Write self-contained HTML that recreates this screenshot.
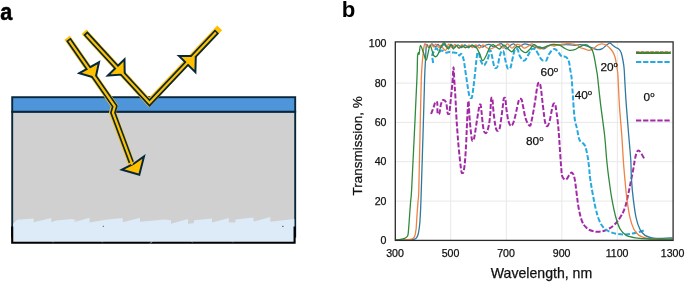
<!DOCTYPE html>
<html><head><meta charset="utf-8"><title>figure</title>
<style>html,body{margin:0;padding:0;background:#fff}body{width:685px;height:282px;position:relative;overflow:hidden}</style></head>
<body>
<svg width="685" height="282" viewBox="0 0 685 282" style="position:absolute;left:0;top:0">
<rect x="12.2" y="111.7" width="283" height="125" fill="#d0d0d0" stroke="#08273b" stroke-width="1.9"/>
<rect x="12.2" y="97.2" width="283" height="14.5" fill="#4f95da" stroke="#08273b" stroke-width="1.9"/>
<polygon points="13.2,223.8 17.0,219.7 33.7,218.6 33.7,222.2 51.3,218.1 51.3,222.2 56.0,220.6 72.0,219.0 76.0,220.2 73.6,222.2 89.5,217.8 89.5,222.5 105.7,219.7 122.5,218.1 123.0,222.2 140.0,217.8 140.0,221.7 164.7,219.4 171.0,220.2 171.0,223.8 188.0,219.0 188.0,223.8 193.7,223.3 194.2,220.2 212.0,218.6 212.0,222.5 228.8,218.1 228.8,222.5 235.2,222.5 235.6,219.4 253.5,217.6 253.6,221.7 270.3,217.0 270.3,221.7 294.3,219.0 294.6,242.7 12.4,242.7" fill="#ddeaf7"/>
<path d="M12.2 226.5V242.7H294.6V226.5" fill="none" stroke="#000" stroke-width="2.1"/>
<path d="M52.2 241.4l.9 .9M101.6 241.4l.9 .9M150.2 243.4l2.2-2.2M191.5 241.4l.9 .9M232 241.4l.9 .9" stroke="#ddeaf7" stroke-width="0.8" fill="none"/>
<rect x="102.8" y="225.8" width="1" height="1" fill="#345"/><rect x="282" y="225.9" width="1.6" height="0.8" fill="#345"/>
<path d="M67.6 38.2 L114.8 106.3 L112.9 112.7 L133.4 168.0" fill="none" stroke="#ffc000" stroke-width="6.8" stroke-linejoin="miter" transform="translate(-0.4 -0.4)"/>
<path d="M84.5 32.2 L149.5 103.0 L220.1 28.2" fill="none" stroke="#ffc000" stroke-width="6.8" stroke-linejoin="miter" transform="translate(-0.4 -0.4)"/>
<path d="M68.4 39.4 L114.8 106.3 L112.9 112.7 L131.3 162.4" fill="none" stroke="#08273b" stroke-width="5.5" stroke-linejoin="miter"/>
<path d="M85.4 33.2 L149.5 103.0 L217.0 31.5" fill="none" stroke="#08273b" stroke-width="5.5" stroke-linejoin="miter"/>
<polygon points="79.3,73.1 99.0,62.3 95.6,77.9" fill="#ffc000" stroke="#08273b" stroke-width="2.0" stroke-linejoin="miter"/>
<polygon points="107.9,75.5 124.5,59.4 124.7,74.4" fill="#ffc000" stroke="#08273b" stroke-width="2.0" stroke-linejoin="miter"/>
<polygon points="178.9,55.9 195.4,72.2 195.8,55.9" fill="#ffc000" stroke="#08273b" stroke-width="2.0" stroke-linejoin="miter"/>
<polygon points="121.9,169.7 133.4,164.0 144.0,156.5 139.3,174.8" fill="#ffc000" stroke="#08273b" stroke-width="2.0" stroke-linejoin="miter"/>
<path d="M69.3 40.7 L114.8 106.3 L112.9 112.7 L132.2 164.7" fill="none" stroke="#ffc000" stroke-width="2.2" stroke-linejoin="miter"/>
<path d="M86.5 34.4 L149.5 103.0 L215.9 32.6" fill="none" stroke="#ffc000" stroke-width="2.2" stroke-linejoin="miter"/>
<line x1="450.7" y1="41.9" x2="450.7" y2="240.4" stroke="#e8e8e8" stroke-width="1"/>
<line x1="506.3" y1="41.9" x2="506.3" y2="240.4" stroke="#e8e8e8" stroke-width="1"/>
<line x1="561.8" y1="41.9" x2="561.8" y2="240.4" stroke="#e8e8e8" stroke-width="1"/>
<line x1="617.3" y1="41.9" x2="617.3" y2="240.4" stroke="#e8e8e8" stroke-width="1"/>
<line x1="395.3" y1="83.1" x2="673.1" y2="83.1" stroke="#e8e8e8" stroke-width="1"/>
<line x1="395.3" y1="122.4" x2="673.1" y2="122.4" stroke="#e8e8e8" stroke-width="1"/>
<line x1="395.3" y1="161.7" x2="673.1" y2="161.7" stroke="#e8e8e8" stroke-width="1"/>
<line x1="395.3" y1="201.1" x2="673.1" y2="201.1" stroke="#e8e8e8" stroke-width="1"/>
<clipPath id="cp"><rect x="395.3" y="41.9" width="277.8" height="198.5"/></clipPath>
<g clip-path="url(#cp)" fill="none" stroke-linejoin="round">
<path d="M431.1 114.0C431.6 112.6 433.0 109.0 433.8 106.7C434.6 104.4 434.7 103.2 435.2 102.3C435.7 101.3 436.0 101.4 436.4 101.6C436.8 101.8 437.1 101.1 437.3 103.2C437.5 105.3 437.3 110.3 437.5 112.4C437.7 114.5 438.0 113.9 438.4 114.0C438.8 114.1 439.1 114.6 439.6 112.7C440.1 110.7 440.4 106.2 441.1 103.8C441.8 101.4 442.2 100.3 443.2 100.1C444.2 99.9 445.4 100.6 446.2 103.0C447.0 105.4 447.1 110.4 447.5 112.6C448.0 114.7 448.2 114.0 448.6 114.0C449.0 114.0 449.1 114.7 449.5 112.5C449.8 110.2 449.9 108.2 450.5 102.3C451.1 96.4 451.9 88.7 452.5 81.9C453.1 75.1 453.1 67.3 453.5 67.3C453.9 67.3 454.0 76.2 454.4 81.9C454.8 87.6 455.0 90.2 455.4 97.0C455.8 103.8 456.0 109.9 456.4 116.9C456.8 123.9 457.1 127.5 457.5 133.0C457.9 138.5 458.0 140.1 458.5 145.6C459.0 151.1 459.5 156.2 460.1 161.2C460.7 166.2 460.9 169.1 461.4 171.4C461.8 173.6 462.0 172.9 462.4 172.9C462.8 172.9 463.1 173.6 463.6 171.4C464.1 169.1 464.5 167.3 465.0 161.2C465.5 155.1 465.9 148.6 466.3 140.0C466.7 131.4 466.9 124.5 467.3 116.9C467.7 109.3 468.1 100.8 468.5 100.8C468.9 100.8 469.0 110.9 469.5 116.9C470.0 122.9 470.4 127.6 470.9 132.0C471.4 136.4 471.6 137.9 471.9 139.6C472.3 141.3 472.5 140.6 472.8 140.7C473.1 140.8 473.3 141.1 473.7 139.8C474.2 138.5 474.3 137.6 474.9 134.0C475.5 130.4 476.1 126.0 476.8 121.3C477.5 116.6 478.2 112.7 478.7 109.6C479.2 106.5 479.2 106.1 479.5 105.2C479.8 104.2 479.9 104.4 480.2 104.5C480.5 104.6 480.6 104.0 480.8 105.5C481.1 107.1 481.1 108.0 481.6 112.5C482.1 117.0 482.6 124.6 483.4 128.6C484.2 132.6 484.7 133.2 485.6 133.2C486.5 133.2 487.2 131.8 488.1 128.6C489.0 125.4 489.4 122.4 490.0 116.9C490.6 111.4 490.7 104.0 491.0 100.4C491.4 96.7 491.6 98.1 491.9 97.9C492.2 97.7 492.3 97.2 492.5 99.4C492.8 101.7 492.8 104.8 493.3 109.6C493.8 114.4 494.5 120.3 495.1 124.2C495.7 128.1 496.0 128.7 496.5 129.9C497.0 131.2 497.3 130.8 497.7 130.8C498.1 130.8 498.3 131.1 498.8 130.1C499.3 129.2 499.5 129.7 500.2 125.7C500.9 121.7 501.7 114.7 502.4 109.6C503.1 104.5 503.2 101.7 503.6 99.4C504.0 97.2 504.2 97.9 504.6 97.9C505.0 97.9 505.1 97.2 505.5 99.4C505.8 101.7 505.9 105.4 506.5 109.6C507.1 113.8 507.6 118.1 508.5 121.3C509.4 124.5 510.3 126.2 511.4 125.9C512.5 125.6 513.2 123.5 514.3 119.8C515.4 116.1 516.4 110.6 517.3 106.7C518.2 102.8 518.4 101.3 519.1 99.7C519.7 98.2 520.0 98.7 520.5 98.7C521.0 98.7 521.2 98.2 521.7 99.8C522.2 101.4 522.4 103.3 523.2 107.0C524.0 110.7 524.5 115.1 525.7 118.7C526.9 122.3 528.5 125.3 529.6 125.7C530.7 126.1 530.7 124.7 531.6 120.7C532.5 116.7 533.5 111.1 534.5 105.1C535.5 99.1 536.1 93.7 536.8 89.5C537.5 85.3 537.6 84.9 538.0 83.6C538.4 82.3 538.6 82.7 539.0 82.7C539.4 82.7 539.6 82.1 540.0 83.8C540.5 85.5 540.7 86.5 541.3 91.4C541.9 96.3 542.5 103.0 543.3 109.0C544.1 115.0 544.4 119.3 545.2 122.6C546.0 125.9 546.6 126.4 547.5 126.0C548.4 125.6 548.8 124.0 549.7 120.7C550.6 117.4 551.3 112.2 552.0 109.0C552.7 105.8 552.9 105.3 553.3 104.2C553.8 103.2 554.0 103.5 554.4 103.5C554.8 103.5 554.9 103.0 555.3 104.5C555.6 105.9 555.8 107.5 556.3 110.9C556.8 114.3 557.3 117.4 557.8 122.0C558.3 126.6 558.4 128.3 558.9 134.5C559.4 140.7 559.7 147.1 560.2 154.0C560.7 160.9 561.0 165.6 561.4 170.0C561.8 174.4 561.5 174.7 562.4 176.6C563.3 178.5 564.6 180.0 566.0 179.6C567.4 179.2 568.4 175.8 569.6 174.5C570.8 173.2 571.2 172.0 572.1 172.7C573.0 173.4 573.6 174.1 574.5 178.1C575.4 182.1 575.8 187.4 576.6 193.2C577.4 199.0 577.7 203.0 578.7 208.2C579.7 213.4 580.4 216.7 581.7 220.3C583.0 223.9 583.7 224.9 585.6 226.9C587.5 228.9 589.1 229.9 591.7 230.8C594.3 231.7 596.3 231.9 599.2 231.7C602.1 231.5 603.8 231.2 606.7 229.9C609.6 228.6 611.7 227.2 614.3 224.8C616.9 222.4 618.3 220.5 620.3 217.3C622.3 214.1 623.3 212.3 624.8 208.2C626.2 204.1 626.6 201.4 627.8 196.2C629.0 191.0 629.8 186.4 630.9 181.1C632.0 175.8 632.5 173.1 633.3 169.0C634.1 164.9 634.2 163.1 634.8 160.0C635.4 156.9 635.8 154.9 636.5 153.0C637.2 151.1 637.5 150.4 638.4 150.4C639.3 150.4 639.7 151.1 641.0 153.0C642.3 154.9 644.2 158.6 645.0 160.0" stroke="#a32aa6" stroke-width="2" stroke-dasharray="5 2"/>
<path d="M433.2 63.0C433.0 61.5 432.1 57.6 432.2 55.5C432.3 53.4 432.8 53.3 433.7 51.9C434.6 50.5 435.6 48.2 436.6 48.2C437.6 48.2 437.8 51.5 438.8 51.9C439.8 52.3 440.3 50.3 441.7 50.4C443.1 50.5 444.6 52.3 446.1 52.6C447.6 52.9 448.3 51.9 449.7 51.9C451.1 51.9 451.8 52.3 453.4 52.6C455.0 52.9 456.7 52.7 457.8 53.3C458.9 53.9 458.5 55.4 459.2 55.5C459.9 55.6 460.5 53.1 461.4 54.0C462.3 54.9 462.8 56.0 463.7 60.0C464.6 64.0 465.0 69.0 465.9 74.6C466.8 80.2 467.4 84.9 468.1 89.2C468.8 93.5 469.1 95.2 469.7 96.9C470.3 98.6 470.6 98.0 471.0 98.0C471.4 98.0 471.6 98.6 472.0 96.9C472.4 95.2 472.6 93.5 473.2 89.2C473.8 84.9 474.3 80.2 474.9 74.6C475.5 69.0 475.9 64.1 476.4 60.0C476.9 55.9 477.0 55.0 477.4 53.6C477.7 52.1 477.9 52.6 478.2 52.6C478.5 52.6 478.8 52.1 479.2 53.5C479.6 55.0 479.6 57.7 480.4 59.9C481.2 62.1 482.4 64.4 483.4 65.1C484.4 65.8 484.5 65.1 485.5 63.5C486.5 61.9 487.7 59.4 488.4 57.0C489.1 54.6 489.0 52.5 489.3 51.3C489.6 50.0 489.7 50.4 490.0 50.4C490.3 50.4 490.6 50.0 491.0 51.3C491.4 52.5 491.6 54.1 492.2 57.0C492.8 59.9 493.5 64.4 494.2 66.5C494.9 68.6 495.2 67.9 495.8 67.9C496.4 67.9 496.7 68.6 497.5 66.5C498.2 64.4 498.8 59.8 499.5 57.0C500.2 54.2 500.5 53.0 501.1 51.9C501.7 50.7 501.9 51.0 502.4 51.1C502.9 51.2 503.1 50.5 503.7 52.2C504.3 53.9 504.6 56.9 505.3 59.9C506.0 62.9 506.6 65.9 507.3 67.6C508.1 69.3 508.4 68.7 509.0 68.7C509.6 68.7 509.9 69.4 510.6 67.4C511.3 65.4 511.8 61.7 512.6 58.4C513.4 55.1 513.9 52.0 514.6 50.1C515.4 48.3 515.7 49.0 516.3 48.9C516.9 48.8 517.2 48.4 517.9 49.8C518.6 51.3 518.7 54.1 519.9 56.2C521.1 58.3 522.6 61.0 524.3 60.6C526.0 60.2 527.4 56.2 528.7 54.1C530.0 52.0 530.3 50.6 531.1 49.6C532.0 48.6 532.3 48.9 533.1 48.9C533.9 48.9 534.4 48.6 535.4 49.6C536.4 50.6 537.0 52.1 538.2 54.1C539.4 56.1 540.5 58.5 541.8 59.8C543.0 61.0 543.8 60.6 544.7 60.6C545.6 60.6 545.8 61.0 546.7 59.8C547.5 58.5 547.6 56.2 549.1 54.1C550.6 52.0 552.4 49.2 554.2 48.9C556.0 48.6 557.2 51.2 558.6 52.6C560.0 54.0 560.1 55.3 561.5 56.2C562.9 57.1 564.5 56.0 565.9 57.0C567.3 58.0 567.9 58.9 568.8 61.4C569.7 63.9 569.8 67.1 570.3 70.1C570.8 73.1 571.0 72.6 571.5 77.0C572.0 81.4 572.1 85.3 572.7 93.1C573.3 100.9 573.7 110.3 574.5 117.2C575.3 124.1 576.1 124.3 577.0 128.6C577.9 132.9 578.3 136.7 579.3 139.4C580.3 142.1 581.2 141.4 582.3 142.7C583.4 144.0 584.2 143.6 585.2 146.2C586.2 148.8 586.7 151.8 587.5 155.9C588.3 160.0 588.6 163.3 589.1 167.6C589.6 171.9 589.4 173.2 590.1 178.1C590.8 183.0 591.5 187.4 592.6 193.2C593.7 199.0 594.3 203.0 595.6 208.2C596.9 213.4 597.6 216.5 599.2 220.3C600.8 224.1 601.7 225.6 603.7 227.8C605.7 230.0 607.1 230.5 609.7 231.7C612.3 232.9 614.4 233.4 617.3 233.9C620.2 234.4 621.9 234.6 624.8 234.5C627.7 234.4 629.5 234.1 632.4 233.6C635.3 233.1 637.5 232.4 639.9 231.7C642.3 231.0 644.0 230.3 645.0 230.0" stroke="#27a9e0" stroke-width="2" stroke-dasharray="5 2"/>
<path d="M396.0 240.0C398.4 239.9 407.4 239.9 410.6 239.7C413.9 239.5 414.3 239.5 415.5 238.7C416.7 237.9 417.4 236.8 418.0 234.8C418.6 232.9 419.0 230.2 419.4 227.0C419.8 223.8 420.1 219.5 420.3 215.3C420.6 211.1 420.7 205.9 420.9 201.7C421.1 197.5 420.9 201.1 421.3 190.0C421.7 178.9 422.4 153.5 423.0 135.0C423.6 116.5 424.2 91.5 424.6 79.0C425.0 66.5 425.2 65.7 425.5 60.0C425.8 54.3 425.9 47.1 426.5 45.0C427.1 42.9 428.1 47.7 429.0 47.5C429.9 47.3 431.0 44.1 432.0 44.0C433.0 43.9 434.0 46.9 435.0 47.0C436.0 47.1 437.0 44.4 438.0 44.5C439.0 44.6 440.0 47.5 441.0 47.5C442.0 47.5 442.9 44.4 444.0 44.5C445.1 44.6 446.3 48.0 447.5 48.0C448.7 48.0 449.8 44.6 451.0 44.5C452.2 44.4 453.3 47.5 454.5 47.5C455.7 47.5 456.8 44.8 458.0 44.8C459.2 44.8 460.3 47.5 461.5 47.5C462.7 47.5 463.8 45.0 465.0 45.0C466.2 45.0 467.3 47.8 468.5 47.8C469.7 47.8 470.8 45.0 472.0 45.0C473.2 45.0 474.3 47.5 475.5 47.5C476.7 47.5 477.8 44.8 479.0 44.8C480.2 44.8 481.3 47.2 482.5 47.2C483.7 47.2 484.8 45.4 486.0 45.0C487.2 44.6 488.7 44.3 490.0 44.6C491.3 44.9 492.4 46.7 493.6 46.8C494.8 46.9 496.0 45.8 497.3 45.3C498.6 44.8 500.2 43.2 501.7 43.8C503.2 44.4 504.8 48.5 506.1 48.9C507.4 49.3 508.5 46.9 509.7 46.0C510.9 45.1 512.1 43.7 513.4 43.8C514.7 43.9 516.4 46.5 517.7 46.8C519.0 47.0 520.2 45.8 521.4 45.3C522.6 44.8 523.5 43.8 525.0 43.8C526.5 43.8 528.4 44.7 530.1 45.3C531.8 45.9 533.7 47.2 535.3 47.5C536.9 47.8 538.1 46.6 539.6 46.8C541.1 47.0 542.5 49.0 544.0 48.9C545.5 48.8 546.9 46.7 548.4 46.0C549.9 45.3 551.1 44.7 552.8 44.6C554.5 44.5 556.4 45.3 558.6 45.3C560.8 45.3 563.2 44.6 565.9 44.6C568.6 44.6 572.3 45.3 574.7 45.3C577.1 45.3 578.9 44.6 580.5 44.6C582.1 44.6 583.0 44.9 584.4 45.3C585.8 45.7 587.3 46.3 588.8 46.8C590.2 47.3 591.6 47.7 593.1 48.2C594.6 48.7 596.0 49.6 597.5 49.7C599.0 49.8 600.4 49.6 601.9 48.9C603.4 48.2 605.0 46.3 606.3 45.3C607.6 44.3 608.8 43.1 609.9 43.1C611.0 43.1 611.8 44.6 612.8 45.3C613.8 46.0 614.8 46.9 615.8 47.5C616.8 48.1 617.9 48.2 618.7 48.9C619.6 49.6 620.3 50.5 620.9 51.9C621.5 53.2 621.8 54.7 622.3 57.0C622.8 59.3 623.4 62.8 623.8 65.7C624.2 68.6 624.4 72.3 624.5 74.5C624.6 76.7 624.4 73.9 624.7 79.0C625.0 84.1 625.6 95.7 626.3 105.1C627.0 114.5 628.0 126.2 628.7 135.3C629.5 144.5 630.3 152.9 630.8 160.0C631.2 167.1 631.0 171.6 631.4 178.1C631.8 184.6 632.5 192.7 633.3 199.2C634.1 205.7 634.9 212.3 636.0 217.3C637.1 222.3 638.4 226.3 639.9 229.3C641.4 232.3 643.0 234.0 645.0 235.4C647.0 236.8 649.1 237.3 652.0 237.8C654.9 238.3 659.1 238.4 662.5 238.4C665.9 238.4 670.8 237.9 672.5 237.8" stroke="#2f789f" stroke-width="1.3"/>
<path d="M396.0 240.0C397.4 239.9 402.1 239.8 404.7 239.7C407.3 239.5 410.0 239.6 411.6 239.1C413.2 238.6 413.8 238.5 414.5 236.8C415.2 235.1 415.7 232.6 416.1 229.0C416.5 225.4 416.7 219.9 417.0 215.3C417.3 210.8 417.7 205.9 418.0 201.7C418.3 197.5 418.5 201.1 418.8 190.0C419.1 178.9 419.6 153.5 420.0 135.0C420.4 116.5 420.9 91.8 421.3 79.0C421.8 66.2 422.1 63.8 422.7 58.0C423.2 52.2 423.8 46.1 424.6 44.2C425.4 42.4 426.6 46.9 427.7 46.9C428.8 46.9 430.3 44.2 431.3 44.2C432.3 44.2 432.8 46.9 433.5 46.9C434.2 46.9 434.7 44.1 435.7 44.2C436.7 44.4 438.5 47.6 439.3 47.8C440.1 48.0 439.6 45.1 440.6 45.5C441.6 45.9 444.2 50.6 445.5 50.4C446.8 50.2 447.5 44.7 448.6 44.2C449.7 43.7 450.9 47.5 452.0 47.5C453.1 47.5 453.9 44.4 455.0 44.5C456.1 44.6 457.3 48.0 458.5 48.0C459.7 48.0 460.8 44.6 462.0 44.6C463.2 44.6 464.3 47.8 465.5 47.8C466.7 47.8 467.8 44.8 469.0 44.8C470.2 44.8 471.3 47.5 472.5 47.5C473.7 47.5 474.8 44.9 476.0 45.0C477.2 45.1 478.3 48.0 479.5 48.0C480.7 48.0 481.8 45.1 483.0 45.0C484.2 44.9 485.3 46.9 486.5 47.5C487.7 48.1 488.7 48.9 490.0 48.9C491.3 48.9 492.9 48.2 494.4 47.5C495.9 46.8 497.4 44.5 498.8 44.6C500.2 44.7 501.7 48.3 503.1 48.2C504.6 48.1 506.0 43.8 507.5 43.8C509.0 43.8 510.4 48.1 511.9 48.2C513.4 48.3 514.8 45.1 516.3 44.6C517.8 44.1 519.4 44.7 520.7 45.3C522.0 45.9 523.0 48.1 524.3 48.2C525.6 48.3 527.4 46.7 528.7 46.0C530.0 45.3 531.0 43.5 532.3 43.8C533.6 44.0 535.4 46.6 536.7 47.5C538.1 48.4 539.1 48.9 540.4 48.9C541.7 48.9 543.1 48.1 544.7 47.5C546.3 46.9 548.3 45.5 549.9 45.3C551.5 45.0 552.5 46.1 554.2 46.0C555.9 45.9 558.2 45.0 560.1 44.6C562.0 44.2 564.0 43.9 565.9 43.8C567.8 43.7 569.8 43.5 571.8 43.8C573.8 44.0 576.2 44.7 577.6 45.3C579.0 45.9 578.9 46.9 580.0 47.5C581.1 48.1 582.9 48.4 584.4 48.9C585.9 49.4 587.3 50.4 588.8 50.4C590.2 50.4 591.6 49.8 593.1 48.9C594.6 48.0 596.0 46.1 597.5 45.3C599.0 44.4 600.4 43.8 601.9 43.8C603.4 43.8 605.0 44.6 606.3 45.3C607.6 46.0 608.8 47.1 609.9 48.2C611.0 49.3 611.9 50.4 612.8 51.9C613.6 53.4 614.4 54.9 615.0 57.0C615.6 59.1 616.0 61.6 616.5 64.3C617.0 67.0 617.5 70.9 617.7 73.0C618.0 75.1 617.7 71.7 618.0 77.0C618.3 82.3 618.8 95.4 619.4 105.1C620.0 114.8 621.1 126.2 621.8 135.3C622.4 144.5 622.8 152.9 623.3 160.0C623.8 167.1 624.2 171.6 624.8 178.1C625.4 184.6 626.0 192.7 626.9 199.2C627.8 205.7 628.7 212.3 629.9 217.3C631.1 222.3 632.4 226.3 633.9 229.3C635.4 232.3 636.8 233.9 639.0 235.4C641.2 236.9 644.0 237.8 647.4 238.4C650.8 239.1 655.3 239.1 659.5 239.3C663.7 239.5 670.3 239.6 672.5 239.6" stroke="#ee8242" stroke-width="1.3"/>
<path d="M396.0 240.0C396.5 239.9 397.4 240.0 398.9 239.7C400.3 239.4 403.2 239.0 404.7 238.3C406.2 237.7 407.0 237.4 407.7 235.8C408.4 234.2 408.3 232.4 408.6 229.0C408.9 225.6 409.3 219.9 409.6 215.3C409.9 210.8 410.3 205.9 410.6 201.7C410.9 197.5 411.0 201.1 411.6 190.0C412.2 178.9 413.4 153.5 414.3 135.0C415.2 116.5 416.4 90.3 416.9 79.0C417.4 67.7 417.2 71.1 417.3 67.2C417.4 63.3 417.4 57.9 417.6 55.5C417.8 53.1 418.1 52.9 418.4 52.6C418.6 52.4 418.8 55.2 419.1 54.0C419.5 52.8 419.8 45.5 420.5 45.3C421.2 45.1 422.4 50.2 423.4 52.6C424.4 55.0 425.3 61.0 426.4 59.9C427.5 58.8 428.8 46.7 430.0 46.0C431.2 45.3 432.5 53.9 433.7 55.5C434.9 57.1 436.0 57.2 437.3 55.5C438.6 53.8 440.5 47.4 441.7 45.3C442.9 43.2 443.5 42.5 444.6 43.1C445.7 43.7 447.2 48.8 448.3 49.0C449.4 49.2 450.4 44.6 451.2 44.6C452.0 44.6 452.5 48.9 453.4 49.0C454.2 49.1 455.3 45.4 456.3 45.3C457.3 45.2 458.2 48.1 459.2 48.2C460.2 48.3 461.2 46.1 462.2 46.0C463.2 45.9 464.0 47.4 465.1 47.5C466.2 47.6 467.6 46.8 469.0 46.5C470.4 46.2 472.5 45.7 473.8 46.0C475.1 46.3 475.8 46.9 476.8 48.2C477.8 49.5 478.7 51.9 479.7 54.0C480.7 56.1 481.5 60.4 482.6 60.6C483.7 60.9 485.0 57.8 486.2 55.5C487.4 53.2 488.8 48.6 489.9 46.8C491.0 45.0 491.9 44.6 492.9 44.6C493.9 44.6 494.7 46.1 495.8 46.8C496.9 47.5 498.4 49.1 499.5 49.0C500.6 48.9 501.5 46.6 502.4 46.0C503.2 45.4 503.6 44.8 504.6 45.3C505.6 45.8 507.0 47.8 508.2 48.9C509.4 50.0 510.7 52.1 511.9 51.9C513.1 51.7 514.4 48.4 515.5 47.5C516.6 46.6 517.5 46.3 518.5 46.8C519.5 47.3 520.2 49.4 521.4 50.4C522.6 51.4 524.3 52.9 525.8 52.6C527.2 52.4 528.8 50.2 530.1 48.9C531.4 47.6 532.6 45.0 533.8 44.6C535.0 44.2 536.2 46.2 537.4 46.8C538.6 47.4 539.8 48.2 541.1 48.2C542.5 48.2 543.8 47.4 545.5 46.8C547.2 46.2 549.6 45.0 551.3 44.6C553.0 44.2 554.2 44.5 555.7 44.6C557.2 44.7 558.6 44.7 560.1 45.3C561.6 45.9 562.9 47.4 564.5 48.2C566.1 49.1 567.9 50.1 569.6 50.4C571.3 50.6 573.0 50.3 574.7 49.7C576.4 49.1 577.9 47.6 579.8 46.8C581.6 45.9 584.2 44.6 585.8 44.6C587.4 44.6 588.4 45.8 589.5 46.8C590.6 47.8 591.7 48.9 592.4 50.4C593.1 51.9 593.4 53.4 593.9 55.5C594.4 57.6 594.8 60.1 595.3 62.8C595.8 65.5 596.4 69.2 596.8 71.6C597.2 74.0 597.0 71.4 597.6 77.0C598.2 82.6 599.5 95.4 600.7 105.1C601.9 114.8 603.6 126.2 604.6 135.3C605.6 144.5 606.0 152.9 606.7 160.0C607.4 167.1 607.9 171.6 608.8 178.1C609.7 184.6 610.7 192.7 611.9 199.2C613.1 205.7 614.4 212.3 615.8 217.3C617.2 222.3 618.5 226.3 620.3 229.3C622.0 232.3 623.8 234.0 626.3 235.4C628.8 236.8 631.4 237.2 635.4 237.8C639.4 238.4 644.2 238.8 650.4 239.0C656.6 239.2 668.8 239.0 672.5 239.0" stroke="#2f8a3c" stroke-width="1.3"/>
</g>
<line x1="636" y1="52.9" x2="670.8" y2="52.9" stroke="#3b8632" stroke-width="2.2"/>
<line x1="636" y1="51.8" x2="670.8" y2="51.8" stroke="#b85a3a" stroke-width="0.9" stroke-dasharray="3.4 1.4"/>
<line x1="636" y1="61.9" x2="670" y2="61.9" stroke="#27a9e0" stroke-width="2" stroke-dasharray="5.3 1.8"/>
<line x1="636" y1="120.6" x2="670" y2="120.6" stroke="#a32aa6" stroke-width="2" stroke-dasharray="5.3 1.8"/>
<rect x="395.3" y="41.9" width="277.8" height="198.5" fill="none" stroke="#2a2a2a" stroke-width="1.3"/>
<g font-family="Liberation Sans, Arial, sans-serif" fill="#111" stroke="#111" stroke-width="0.25">
<text transform="translate(0.2 20.0) scale(0.88 1)" font-size="24.6" font-weight="bold" fill="#000" stroke="#000" stroke-width="0.55">a</text>
<text x="341.8" y="16.5" font-size="22.2" font-weight="bold" fill="#000" stroke="none">b</text>
<text x="386.5" y="47.2" font-size="10.6" text-anchor="end">100</text>
<text x="386.5" y="86.8" font-size="10.6" text-anchor="end">80</text>
<text x="386.5" y="126.1" font-size="10.6" text-anchor="end">60</text>
<text x="386.5" y="165.4" font-size="10.6" text-anchor="end">40</text>
<text x="386.5" y="204.8" font-size="10.6" text-anchor="end">20</text>
<text x="386.5" y="244.1" font-size="10.6" text-anchor="end">0</text>
<text x="395.0" y="256.6" font-size="10.6" text-anchor="middle">300</text>
<text x="450.5" y="256.6" font-size="10.6" text-anchor="middle">500</text>
<text x="506.0" y="256.6" font-size="10.6" text-anchor="middle">700</text>
<text x="561.6" y="256.6" font-size="10.6" text-anchor="middle">900</text>
<text x="617.1" y="256.6" font-size="10.6" text-anchor="middle">1100</text>
<text x="672.6" y="256.6" font-size="10.6" text-anchor="middle">1300</text>
<text x="541.5" y="278.4" font-size="14.1" text-anchor="middle">Wavelength, nm</text>
<text transform="translate(362.2 145.8) rotate(-90)" font-size="13.5" text-anchor="middle">Transmission, %</text>
<text x="540.6" y="76.3" font-size="11.8">60<tspan font-size="7.8" dy="-4.1">o</tspan></text>
<text x="600.4" y="71.3" font-size="11.8">20<tspan font-size="7.8" dy="-4.1">o</tspan></text>
<text x="574.7" y="99.0" font-size="11.8">40<tspan font-size="7.8" dy="-4.1">o</tspan></text>
<text x="643.6" y="101.2" font-size="11.8">0<tspan font-size="7.8" dy="-4.1">o</tspan></text>
<text x="526.0" y="144.7" font-size="11.8">80<tspan font-size="7.8" dy="-4.1">o</tspan></text>
</g>
</svg>
</body></html>
